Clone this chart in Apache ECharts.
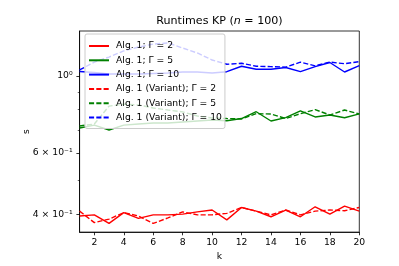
<!DOCTYPE html>
<html>
<head>
<meta charset="utf-8">
<script src="https://cdn.jsdelivr.net/npm/echarts@6/dist/echarts.min.js"></script>
<style>
html,body{margin:0;padding:0;background:#fff;}
#c{width:399px;height:266px;}
</style>
</head>
<body>
<div id="c"></div>
<script>
// ---- data ----
const ks = [1,2,3,4,5,6,7,8,9,10,11,12,13,14,15,16,17,18,19,20];
const alg1_g2  = [0.395,0.398,0.376,0.404,0.389,0.398,0.398,0.400,0.406,0.411,0.385,0.418,0.408,0.393,0.411,0.393,0.420,0.400,0.422,0.408];
const alg1_g5  = [0.708,0.722,0.699,0.722,0.727,0.732,0.732,0.737,0.742,0.747,0.743,0.754,0.789,0.742,0.759,0.794,0.762,0.772,0.758,0.778];
const alg1_g10 = [1.030,1.024,1.013,1.013,1.013,1.017,1.020,1.027,1.027,1.020,1.029,1.067,1.046,1.046,1.058,1.029,1.064,1.094,1.027,1.071];
const var_g2   = [0.408,0.378,0.387,0.404,0.395,0.376,0.390,0.406,0.398,0.398,0.402,0.418,0.408,0.398,0.411,0.398,0.408,0.411,0.409,0.418];
const var_g5   = [0.718,0.727,0.819,0.830,0.825,0.809,0.798,0.788,0.767,0.757,0.754,0.752,0.779,0.777,0.754,0.779,0.800,0.772,0.798,0.777];
const var_g10  = [1.041,1.097,1.134,1.181,1.212,1.236,1.245,1.204,1.165,1.112,1.081,1.088,1.067,1.064,1.061,1.096,1.070,1.097,1.085,1.100];
const seriesNames = ['Alg. 1; Γ = 2','Alg. 1; Γ = 5','Alg. 1; Γ = 10',
                     'Alg. 1 (Variant); Γ = 2','Alg. 1 (Variant); Γ = 5','Alg. 1 (Variant); Γ = 10'];
const xTicks = [2,4,6,8,10,12,14,16,18,20];
const yTicks = [0.4, 0.6, 1.0];
const yTickLabels = ['4 × 10⁻¹','6 × 10⁻¹','10⁰'];
const yMinorTicks = [0.5, 0.7, 0.8, 0.9];
const yRange = [0.355, 1.348];

// ---- chart ----
const lg = Math.log10;
const allVals = [alg1_g2, alg1_g5, alg1_g10, var_g2, var_g5, var_g10];
const colors = ['#ff0000','#008000','#0000ff','#ff0000','#008000','#0000ff'];
const dashed = [false,false,false,true,true,true];
const FONT = 'DejaVu Sans';
const lw = 1.4;

const series = allVals.map((vals, i) => ({
  name: seriesNames[i],
  type: 'line',
  symbol: 'none',
  showSymbol: false,
  animation: false,
  data: ks.map((k, j) => [k, lg(vals[j])]),
  lineStyle: { color: colors[i], width: lw, type: dashed[i] ? [5.1, 2.2] : 'solid' },
  itemStyle: { color: colors[i] },
  z: 2 + i
}));

const chart = echarts.init(document.getElementById('c'), null, { renderer: 'canvas' });
chart.setOption({
  animation: false,
  backgroundColor: '#ffffff',
  title: {
    text: '{a|Runtimes KP (}{i|n}{a| = 100)}',
    left: 219.5,
    top: 15.5,
    padding: 0,
    textAlign: 'center',
    textStyle: {
      fontWeight: 'normal',
      rich: {
        a: { fontFamily: FONT, fontSize: 11.1, color: '#000', fontWeight: 'normal' },
        i: { fontFamily: FONT, fontSize: 11.1, color: '#000', fontStyle: 'italic', fontWeight: 'normal' }
      }
    }
  },
  grid: {
    left: 79.6, right: 39.7, top: 31, bottom: 33.7,
    show: true, borderColor: '#000', borderWidth: 0.8, backgroundColor: 'transparent'
  },
  legend: {
    orient: 'vertical',
    left: 85, top: 34,
    padding: [7, 3, 6, 3],
    itemWidth: 20, itemHeight: 10, itemGap: 4.3,
    backgroundColor: 'rgba(255,255,255,0.8)',
    borderColor: '#cccccc', borderWidth: 1, borderRadius: 2,
    itemStyle: { opacity: 0 },
    textStyle: { fontFamily: FONT, fontSize: 9.24, color: '#000', lineHeight: 10, padding: [0,0,0,2] },
    data: seriesNames,
    z: 10
  },
  xAxis: {
    type: 'value', min: 1, max: 20,
    name: 'k', nameLocation: 'middle', nameGap: 18,
    nameTextStyle: { fontFamily: FONT, fontSize: 9.24, color: '#000' },
    axisLine: { show: true, onZero: false, lineStyle: { color: '#000', width: 0.8 } },
    axisTick: { show: true, length: 3.2, customValues: xTicks, lineStyle: { color: '#000', width: 0.8 } },
    axisLabel: { customValues: xTicks, margin: 6, fontFamily: FONT, fontSize: 9.24, color: '#000' },
    splitLine: { show: false }
  },
  yAxis: [{
    type: 'value', min: lg(yRange[0]), max: lg(yRange[1]),
    name: 's', nameLocation: 'middle', nameGap: 48, nameRotate: 90, nameMoveOverlap: false,
    nameTextStyle: { fontFamily: FONT, fontSize: 9.24, color: '#000' },
    axisLine: { show: true, onZero: false, lineStyle: { color: '#000', width: 0.8 } },
    axisTick: { show: true, length: 3.2, customValues: yTicks.map(lg), lineStyle: { color: '#000', width: 0.8 } },
    axisLabel: {
      customValues: yTicks.map(lg), margin: 7, fontFamily: FONT, fontSize: 9.24, color: '#000',
      formatter: function (v) {
        let best = 0, bd = Infinity;
        yTicks.forEach((t, i) => { const d = Math.abs(lg(t) - v); if (d < bd) { bd = d; best = i; } });
        return yTickLabels[best];
      }
    },
    splitLine: { show: false }
  }, {
    type: 'value', min: lg(yRange[0]), max: lg(yRange[1]), position: 'left',
    axisLine: { show: false },
    axisTick: { show: true, length: 1.85, customValues: yMinorTicks.map(lg), lineStyle: { color: '#000', width: 0.6 } },
    axisLabel: { show: false },
    splitLine: { show: false }
  }],
  series: series
});
</script>
</body>
</html>
